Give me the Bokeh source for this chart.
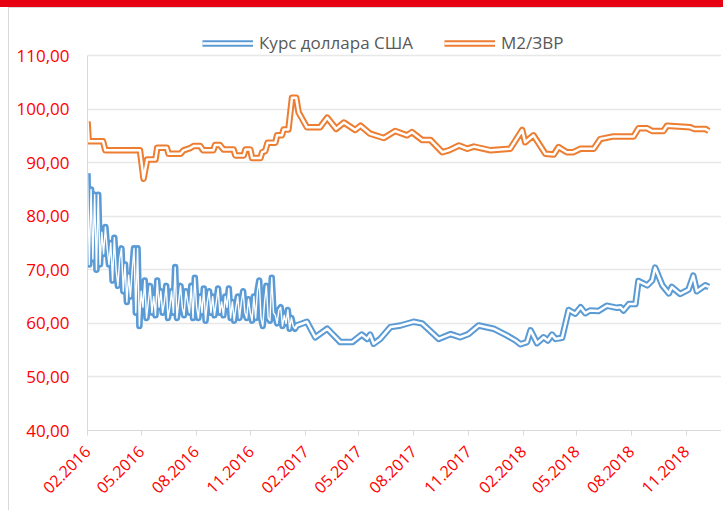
import math
import pandas as pd
from bokeh.plotting import figure
from bokeh.layouts import column
from bokeh.models import FixedTicker, DatetimeTickFormatter, Legend, LegendItem, Range1d, Div
from bokeh.embed import file_html
from bokeh.resources import INLINE

# ---- data ----
y_ticks = [40, 50, 60, 70, 80, 90, 100, 110]
y_tick_labels = ["40,00", "50,00", "60,00", "70,00", "80,00", "90,00", "100,00", "110,00"]
x_tick_dates = ["2016-02-01", "2016-05-01", "2016-08-01", "2016-11-01",
                "2017-02-01", "2017-05-01", "2017-08-01", "2017-11-01",
                "2018-02-01", "2018-05-01", "2018-08-01", "2018-11-01"]

# USD rate, 2016 (values every 3 days from 2016-02-01)
usd_2016_start = "2016-02-01"
usd_2016 = [88, 71, 85, 72, 84, 70, 84, 71,
            77, 73, 78, 74, 71, 75,
            68, 76, 70, 67, 72, 74, 66, 71,
            64, 69, 65, 70, 74, 62, 74,
            59.5, 66, 63, 68, 61, 64, 67,
            62, 65, 61.5, 68, 63, 66, 62, 64, 67, 61,
            63, 66, 62, 70.5, 61, 64, 67, 63, 61.5, 66,
            64, 62, 67, 61, 68.5, 63, 61, 65, 62, 66.5,
            60.5, 64, 66, 62, 65, 61.5, 64, 66.5, 62, 64,
            61.5, 65, 63, 66.5, 61, 64, 60.5, 63, 65, 61,
            64, 66, 62, 61, 64.5, 62, 60.5, 65, 61, 66,
            68, 61, 59.5, 64, 67, 61, 60.5, 68.5, 62, 61.5,
            60, 62.5, 63, 59.5, 61.5, 60, 62.5, 59, 61, 59.5, 59]

# USD rate, 2017-2018
usd_dates = ["2017-01-17", "2017-02-03", "2017-02-17", "2017-03-09", "2017-03-31", "2017-04-20",
             "2017-05-06", "2017-05-15", "2017-05-20", "2017-05-26", "2017-06-06", "2017-06-23",
             "2017-07-10", "2017-08-01", "2017-08-15", "2017-09-12", "2017-10-02", "2017-10-18",
             "2017-11-01", "2017-11-18", "2017-12-13", "2018-01-05", "2018-01-19", "2018-01-27",
             "2018-02-07", "2018-02-13", "2018-02-24", "2018-03-07", "2018-03-14", "2018-03-21",
             "2018-03-27", "2018-04-07", "2018-04-18", "2018-04-29", "2018-05-08", "2018-05-16",
             "2018-05-24", "2018-06-07", "2018-06-21", "2018-07-08", "2018-07-14", "2018-07-19",
             "2018-07-28", "2018-08-08", "2018-08-13", "2018-08-28", "2018-09-05", "2018-09-10",
             "2018-09-22", "2018-10-03", "2018-10-08", "2018-10-22", "2018-11-05", "2018-11-13",
             "2018-11-19", "2018-12-03", "2018-12-09"]
usd_values = [59.6, 60.3, 57.4, 59.0, 56.5, 56.5, 57.9, 57.1, 57.9, 56.2, 57.1, 59.3,
              59.6, 60.3, 60.0, 57.1, 58.0, 57.4, 58.0, 59.6, 59.0, 57.7, 56.8, 56.1,
              56.5, 58.7, 56.3, 57.4, 56.8, 57.9, 57.1, 57.3, 62.5, 61.8, 63.0, 61.9,
              62.4, 62.3, 63.3, 62.9, 63.0, 62.4, 63.6, 63.6, 67.9, 67.1, 68.0, 70.4,
              67.1, 65.6, 66.8, 65.5, 66.3, 68.9, 66.0, 67.1, 66.8]

# M2 / reserves
m2_dates = ["2016-02-01", "2016-02-03", "2016-02-27", "2016-03-02", "2016-04-29", "2016-05-05",
            "2016-05-11", "2016-05-25", "2016-05-28", "2016-06-13", "2016-06-16", "2016-07-06",
            "2016-07-11", "2016-07-22", "2016-07-28", "2016-08-08", "2016-08-13", "2016-08-30",
            "2016-09-02", "2016-09-10", "2016-09-16", "2016-10-03", "2016-10-06", "2016-10-20",
            "2016-10-23", "2016-10-31", "2016-11-03", "2016-11-17", "2016-11-20", "2016-11-25",
            "2016-11-29", "2016-12-12", "2016-12-15", "2016-12-23", "2016-12-26", "2017-01-03",
            "2017-01-09", "2017-01-16", "2017-01-20", "2017-02-03", "2017-02-25", "2017-03-09",
            "2017-03-24", "2017-04-06", "2017-04-25", "2017-05-04", "2017-05-20", "2017-06-12",
            "2017-07-01", "2017-07-21", "2017-07-29", "2017-08-15", "2017-08-29", "2017-09-18",
            "2017-09-29", "2017-10-16", "2017-10-30", "2017-11-10", "2017-12-08", "2018-01-10",
            "2018-01-30", "2018-02-04", "2018-02-18", "2018-03-10", "2018-03-24", "2018-04-01",
            "2018-04-15", "2018-04-26", "2018-05-08", "2018-05-30", "2018-06-10", "2018-07-02",
            "2018-08-05", "2018-08-13", "2018-08-28", "2018-09-05", "2018-09-24", "2018-09-30",
            "2018-11-08", "2018-11-14", "2018-12-03", "2018-12-09"]
m2_values = [97.7, 94.0, 94.0, 92.3, 92.3, 87.0, 90.6, 90.6, 92.8, 92.8, 91.65, 91.65,
             92.3, 92.7, 93.1, 93.1, 92.3, 92.3, 93.3, 93.3, 92.45, 92.45, 91.35, 91.35,
             92.45, 92.45, 90.85, 90.85, 91.95, 92.15, 93.7, 93.7, 95.1, 95.1, 96.2, 96.2,
             102.1, 102.1, 99.4, 96.6, 96.6, 98.4, 96.3, 97.5, 96.1, 96.9, 95.4, 94.6,
             95.9, 95.1, 95.7, 94.25, 94.25, 91.95, 92.3, 93.2, 92.6, 93.0, 92.3, 92.6,
             96.1, 93.8, 95.1, 91.65, 91.5, 92.9, 91.95, 91.95, 92.6, 92.6, 94.4, 94.9,
             94.9, 96.4, 96.4, 95.9, 95.9, 96.9, 96.6, 96.3, 96.3, 95.9]

usd_label = "Курс доллара США"
m2_label = "М2/ЗВР"

# ---- build ----
usd_x_2016 = list(pd.date_range(usd_2016_start, periods=len(usd_2016), freq="3D"))
usd_x_rest = list(pd.to_datetime(usd_dates))
usd_x = usd_x_2016 + usd_x_rest
usd_y = usd_2016 + usd_values
m2_x = list(pd.to_datetime(m2_dates))

BLUE = "#5B9BD5"
ORANGE = "#ED7D31"
RED = "#FF0000"

p = figure(width=713, height=503, x_axis_type="datetime",
           x_range=Range1d(pd.Timestamp("2016-02-01"), pd.Timestamp("2019-01-01")),
           y_range=Range1d(40, 115.6),
           output_backend="svg", toolbar_location=None,
           min_border_left=78, min_border_right=0, min_border_top=17, min_border_bottom=81)
p.margin = (0, 0, 0, 8)
p.outline_line_color = None
p.background_fill_color = "white"
p.border_fill_color = "white"
p.styles = {"border-left": "1px solid #D9D9D9", "border-top": "1px solid #D9D9D9"}

o1 = p.line(m2_x, m2_values, line_color=ORANGE, line_width=6.5, line_join="round")
o2 = p.line(m2_x, m2_values, line_color="white", line_width=2.5, line_join="round")
b1 = p.line(usd_x, usd_y, line_color=BLUE, line_width=6.5, line_join="round")
# compound-line centre: thinner where the daily data is dense
p.line(usd_x_2016 + usd_x_rest[:1], usd_2016 + usd_values[:1], line_color="white",
       line_width=1.4, line_join="round")
b2 = p.line(usd_x_2016[-1:] + usd_x_rest, usd_2016[-1:] + usd_values, line_color="white",
            line_width=2.5, line_join="round")

# y axis
yt = FixedTicker(ticks=y_ticks)
p.yaxis.ticker = yt
p.yaxis.major_label_overrides = {t: l for t, l in zip(y_ticks, y_tick_labels)}
p.yaxis.bounds = (40, 110)
p.yaxis.axis_line_color = "#D9D9D9"
p.yaxis.major_tick_line_color = None
p.yaxis.minor_tick_line_color = None
p.yaxis.major_tick_out = 0
p.yaxis.major_label_standoff = 18
p.yaxis.major_label_text_color = RED
p.yaxis.major_label_text_font = "Open Sans"
p.yaxis.major_label_text_font_size = "17px"

p.ygrid.ticker = yt
p.ygrid.grid_line_color = "#E8E8E8"
p.ygrid.grid_line_width = 1.5
p.xgrid.visible = False

# x axis
xt = FixedTicker(ticks=[pd.Timestamp(d).timestamp() * 1000 for d in x_tick_dates])
p.xaxis.ticker = xt
fmt = "%m.%Y"
p.xaxis.formatter = DatetimeTickFormatter(milliseconds=fmt, seconds=fmt, minsec=fmt, minutes=fmt,
                                          hourmin=fmt, hours=fmt, days=fmt, months=fmt, years=fmt)
p.xaxis.axis_line_color = "#D9D9D9"
p.xaxis.major_tick_line_color = "#D9D9D9"
p.xaxis.major_tick_out = 5
p.xaxis.major_tick_in = 0
p.xaxis.minor_tick_line_color = None
p.xaxis.major_label_orientation = math.pi / 4
p.xaxis.major_label_standoff = 13
p.xaxis.major_label_text_color = RED
p.xaxis.major_label_text_font = "Open Sans"
p.xaxis.major_label_text_font_size = "16px"

legend = Legend(items=[LegendItem(label=usd_label, renderers=[b1, b2]),
                       LegendItem(label=m2_label, renderers=[o1, o2])],
                location=(115, 376), orientation="horizontal",
                glyph_width=51, glyph_height=20, label_standoff=6, spacing=31,
                padding=0, margin=0, border_line_color=None, background_fill_alpha=0,
                label_text_font="Open Sans", label_text_font_size="17px",
                label_text_color="#595959")
p.add_layout(legend)

top_bar = Div(text="", width=723, height=7, margin=0, styles={"background-color": "#E60012"})
layout = column(top_bar, p, spacing=0, margin=0)

open("out.html", "w").write(file_html(layout, INLINE))
